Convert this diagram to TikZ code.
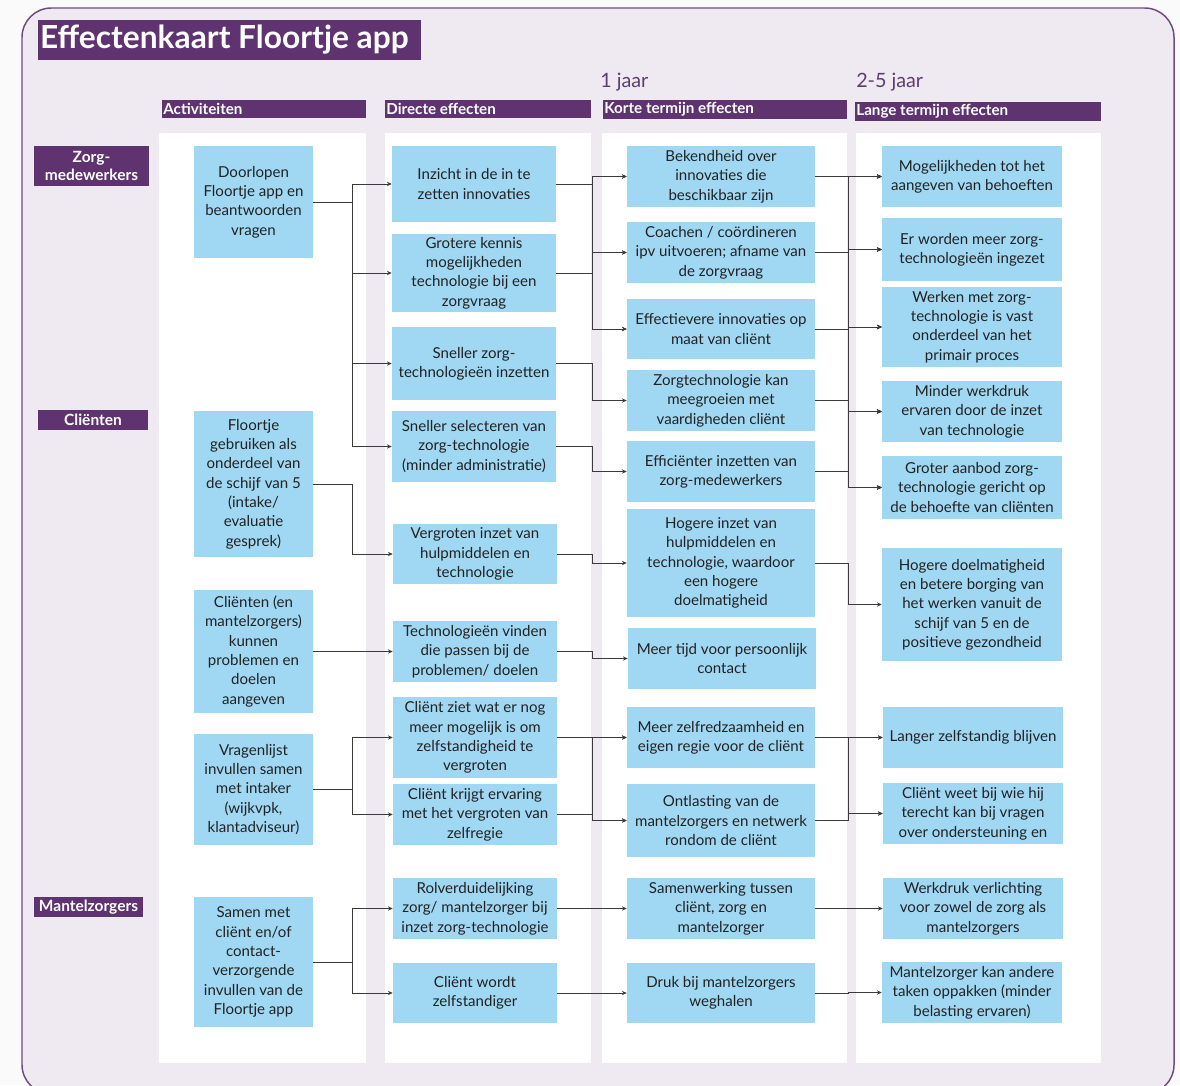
\documentclass[tikz,border=0pt]{standalone}
\usepackage{fontspec}
\setmainfont{Lato}
\usetikzlibrary{arrows.meta}
\definecolor{outside}{HTML}{FAFAFA}
\definecolor{bgl}{HTML}{EFE9F1}
\definecolor{frame}{HTML}{6E4C82}
\definecolor{purp}{HTML}{5E3370}
\definecolor{jaar}{HTML}{5E3D70}
\definecolor{boxblue}{HTML}{A0D8F4}
\definecolor{ink}{HTML}{222222}
\definecolor{wire}{HTML}{3A3A3A}
\tikzset{
  bx/.style={fill=boxblue, inner sep=0pt, align=center, text=ink,
    font=\fontsize{11.3}{14.5}\selectfont},
  panel/.style={fill=white, draw=none},
  hdrbar/.style={fill=purp, inner sep=0pt},
  hdrtxt/.style={text=white, inner sep=1pt, font=\bfseries\fontsize{11.4}{13}\selectfont},
  rowlbl/.style={fill=purp, inner sep=0pt, align=center, text=white,
    font=\bfseries\fontsize{11.6}{14}\selectfont},
  jaartxt/.style={text=jaar, inner sep=0pt, font=\fontsize{14.8}{17}\selectfont},
  conn/.style={draw=wire, line width=0.7pt, -{Stealth[length=3.6pt,width=3.2pt]}}
}
\newcommand\bxnode[6]{\node[bx, minimum width={(#4-#2)*0.75pt}, minimum height={(#5-#3)*0.75pt}] (#1) at ({(#2+#4)/2},{(#3+#5)/2}) {#6};}
\newcommand\pnode[6]{\node[#6, minimum width={(#4-#2)*0.75pt}, minimum height={(#5-#3)*0.75pt}] (#1) at ({(#2+#4)/2},{(#3+#5)/2}) {};}
\newcommand\link[3]{\draw[conn] (#1.east) -- (#1.east -| #3) |- (#2.west);}
\begin{document}
\begin{tikzpicture}[x=0.75pt, y=-0.75pt]
\useasboundingbox (0,0) rectangle (1180,1085);
\fill[outside] (0,0) rectangle (1180,1085);
\draw[fill=bgl, draw=frame, line width=1.1pt, rounded corners=22pt] (22,8) rectangle (1174,1094);

% title
\pnode{titlebar}{38}{20}{421}{60}{hdrbar}
\node[anchor=west, text=white, inner sep=0pt, font=\bfseries\fontsize{23.8}{28}\selectfont] (title) at ([xshift=1.5pt]titlebar.west) {Effectenkaart Floortje app};

% time labels
\node[jaartxt, anchor=west] (j1) at (600,82) {1 jaar};
\node[jaartxt, anchor=west] (j2) at (856,82) {2-5 jaar};

% headers
\pnode{hA}{162}{100}{366}{118}{hdrbar}
\pnode{hB}{385}{100}{591}{118}{hdrbar}
\pnode{hC}{603}{100}{847}{119}{hdrbar}
\pnode{hD}{855}{102}{1101}{121}{hdrbar}
\node[hdrtxt, anchor=west] (hAt) at (hA.west) {Activiteiten};
\node[hdrtxt, anchor=west] (hBt) at (hB.west) {Directe effecten};
\node[hdrtxt, anchor=west] (hCt) at (hC.west) {Korte termijn effecten};
\node[hdrtxt, anchor=west] (hDt) at (hD.west) {Lange termijn effecten};

% panels
\pnode{pA}{159}{133}{366}{1063}{panel}
\pnode{pB}{385}{133}{591}{1063}{panel}
\pnode{pC}{602}{133}{847}{1063}{panel}
\pnode{pD}{856}{133}{1101}{1063}{panel}

% row labels
\node[rowlbl, minimum width={115*0.75pt}, minimum height={40*0.75pt}] (rZ) at (91.5,166) {Zorg-\\medewerkers};
\node[rowlbl, minimum width={110*0.75pt}, minimum height={20*0.75pt}] (rC) at (93,420) {Cliënten};
\node[rowlbl, minimum width={109*0.75pt}, minimum height={20*0.75pt}] (rM) at (88.5,907) {Mantelzorgers};

% column A
\bxnode{A1}{194}{146}{313}{258}{Doorlopen\\Floortje app en\\beantwoorden\\vragen}
\bxnode{A2}{194}{411}{313}{557}{Floortje\\gebruiken als\\onderdeel van\\de schijf van 5\\(intake/\\evaluatie\\gesprek)}
\bxnode{A3}{194}{590}{313}{713}{Cliënten (en\\mantelzorgers)\\kunnen\\problemen en\\doelen\\aangeven}
\bxnode{A4}{194}{734}{313}{845}{Vragenlijst\\invullen samen\\met intaker\\(wijkvpk,\\klantadviseur)}
\bxnode{A5}{194}{897}{313}{1027}{Samen met\\cliënt en/of\\contact-\\verzorgende\\invullen van de\\Floortje app}

% column B
\bxnode{B1}{392}{146}{556}{222}{Inzicht in de in te\\zetten innovaties}
\bxnode{B2}{392}{234}{556}{312}{Grotere kennis\\mogelijkheden\\technologie bij een\\zorgvraag}
\bxnode{B3}{392}{327}{556}{400}{Sneller zorg-\\technologieën inzetten}
\bxnode{B4}{392}{411}{556}{482}{Sneller selecteren van\\zorg-technologie\\(minder administratie)}
\bxnode{B5}{393}{524}{557}{584}{Vergroten inzet van\\hulpmiddelen en\\technologie}
\bxnode{B6}{393}{621}{557}{682}{Technologieën vinden\\die passen bij de\\problemen/ doelen}
\bxnode{B7}{393}{697}{557}{778}{Cliënt ziet wat er nog\\meer mogelijk is om\\zelfstandigheid te\\vergroten}
\bxnode{B8}{393}{784}{557}{845}{Cliënt krijgt ervaring\\met het vergroten van\\zelfregie}
\bxnode{B9}{393}{878}{557}{939}{Rolverduidelijking\\zorg/ mantelzorger bij\\inzet zorg-technologie}
\bxnode{B10}{393}{963}{557}{1023}{Cliënt wordt\\zelfstandiger}

% column C
\bxnode{C1}{627}{146}{815}{207}{Bekendheid over\\innovaties die\\beschikbaar zijn}
\bxnode{C2}{627}{222}{815}{283}{Coachen / coördineren\\ipv uitvoeren; afname van\\de zorgvraag}
\bxnode{C3}{627}{299}{815}{359}{Effectievere innovaties op\\maat van cliënt}
\bxnode{C4}{627}{370}{815}{431}{Zorgtechnologie kan\\meegroeien met\\vaardigheden cliënt}
\bxnode{C5}{627}{441}{815}{502}{Efficiënter inzetten van\\zorg-medewerkers}
\bxnode{C6}{627}{509}{815}{617}{Hogere inzet van\\hulpmiddelen en\\technologie, waardoor\\een hogere\\doelmatigheid}
\bxnode{C7}{628}{628}{816}{689}{Meer tijd voor persoonlijk\\contact}
\bxnode{C8}{627}{707}{815}{768}{Meer zelfredzaamheid en\\eigen regie voor de cliënt}
\bxnode{C9}{627}{784}{815}{857}{Ontlasting van de\\mantelzorgers en netwerk\\rondom de cliënt}
\bxnode{C10}{627}{878}{815}{939}{Samenwerking tussen\\cliënt, zorg en\\mantelzorger}
\bxnode{C11}{627}{963}{815}{1023}{Druk bij mantelzorgers\\weghalen}

% column D
\bxnode{D1}{882}{146}{1062}{207}{Mogelijkheden tot het\\aangeven van behoeften}
\bxnode{D2}{882}{218}{1062}{281}{Er worden meer zorg-\\technologieën ingezet}
\bxnode{D3}{882}{287}{1062}{367}{Werken met zorg-\\technologie is vast\\onderdeel van het\\primair proces}
\bxnode{D4}{882}{381}{1062}{442}{Minder werkdruk\\ervaren door de inzet\\van technologie}
\bxnode{D5}{882}{456}{1062}{519}{Groter aanbod zorg-\\technologie gericht op\\de behoefte van cliënten}
\bxnode{D6}{882}{548}{1062}{661}{Hogere doelmatigheid\\en betere borging van\\het werken vanuit de\\schijf van 5 en de\\positieve gezondheid}
\bxnode{D7}{883}{707}{1063}{768}{Langer zelfstandig blijven}
\bxnode{D8}{883}{783}{1063}{844}{Cliënt weet bij wie hij\\terecht kan bij vragen\\over ondersteuning en}
\bxnode{D9}{883}{878}{1063}{939}{Werkdruk verlichting\\voor zowel de zorg als\\mantelzorgers}
\bxnode{D10}{882}{962}{1062}{1023}{Mantelzorger kan andere\\taken oppakken (minder\\belasting ervaren)}

% bus coordinates
\coordinate (bus1) at (352,0);
\coordinate (bus2) at (592,0);
\coordinate (bus3) at (848,0);

% A -> B
\link{A1}{B1}{bus1}
\link{A1}{B2}{bus1}
\link{A1}{B3}{bus1}
\link{A1}{B4}{bus1}
\link{A2}{B5}{bus1}
\link{A3}{B6}{bus1}
\link{A4}{B7}{bus1}
\link{A4}{B8}{bus1}
\link{A5}{B9}{bus1}
\link{A5}{B10}{bus1}

% B -> C
\foreach \s in {B1,B2}{\foreach \t in {C1,C2,C3}{\link{\s}{\t}{bus2}}}
\link{B3}{C4}{bus2}
\link{B4}{C5}{bus2}
\link{B5}{C6}{bus2}
\link{B6}{C7}{bus2}
\foreach \s in {B7,B8}{\foreach \t in {C8,C9}{\link{\s}{\t}{bus2}}}
\link{B9}{C10}{bus2}
\link{B10}{C11}{bus2}

% C -> D
\foreach \s in {C1,C2,C3,C4,C5}{\foreach \t in {D1,D2,D3,D4,D5}{\link{\s}{\t}{bus3}}}
\link{C6}{D6}{bus3}
\foreach \s in {C8,C9}{\foreach \t in {D7,D8}{\link{\s}{\t}{bus3}}}
\link{C10}{D9}{bus3}
\link{C11}{D10}{bus3}
\end{tikzpicture}
\end{document}
